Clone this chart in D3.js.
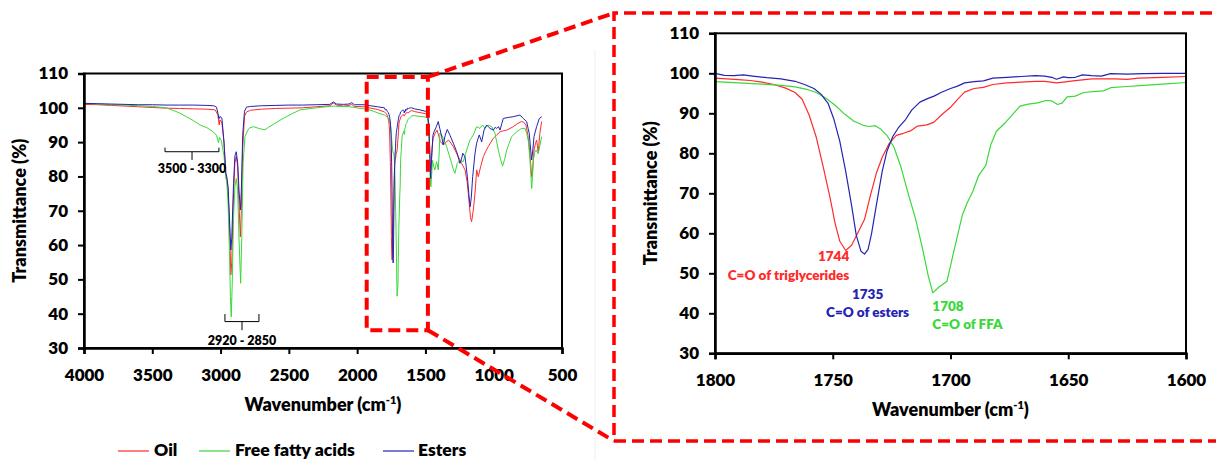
<!DOCTYPE html>
<html><head><meta charset="utf-8">
<script src="https://cdn.jsdelivr.net/npm/d3@7"></script>
<style>
body{margin:0;background:#fff}
svg{display:block}
text{font-family:Lato,"Open Sans",sans-serif;font-weight:800;fill:#000}
</style>
</head><body>
<svg id="c" width="1216" height="461"></svg>
<script>
// ---------- data ----------
const seriesNames = ["Oil", "Free fatty acids", "Esters"];
const seriesColors = ["#ff2a2a", "#3ad83a", "#2323b4"];
const xTicksFull = [4000, 3500, 3000, 2500, 2000, 1500, 1000, 500];
const xTicksZoom = [1800, 1750, 1700, 1650, 1600];
const yTicks = [30, 40, 50, 60, 70, 80, 90, 100, 110];

// [wavenumber, transmittance %]
const oilData = [
 [4000,101.0],[3900,100.9],[3800,100.7],[3700,100.5],[3600,100.3],[3500,100.1],[3400,99.9],[3300,99.8],
 [3200,99.7],[3100,99.6],[3040,99.4],[3020,98.0],[3010,95.0],[3005,96.5],[2990,95.5],[2975,90],[2962,81],
 [2955,79.5],[2945,76],[2935,66],[2925,51.3],[2918,55],[2905,75],[2895,84],[2885,85.8],[2875,83],[2865,72],
 [2855,62.4],[2848,70],[2838,88],[2825,97.5],[2810,98.8],[2780,99.3],[2700,99.6],[2600,99.8],[2500,99.9],
 [2400,100.0],[2300,100.3],[2200,100.6],[2175,101.4],[2150,100.8],[2100,100.5],[2060,100.7],[2040,101.0],
 [2020,100.4],[1950,100.3],[1900,99.9],[1850,99.5],
 [1800,98.8],[1795,98.6],[1790,98.4],[1785,98.2],[1780,97.8],[1775,97.2],[1770,96.3],[1766,95.2],[1763,93.5],
 [1760,89.5],[1757,84],[1754,76.5],[1751,68.5],[1749,62.5],[1747,58],[1744.5,55.7],[1742,57],[1739,60.5],
 [1736.5,63.5],[1734,69.5],[1731.5,75],[1729,79],[1726,82.5],[1723,84.5],[1720,85],[1717,85.6],[1714,86.8],
 [1710,87.1],[1707,87.8],[1704,89.5],[1700,91.5],[1697,93.5],[1694,95.3],[1690,96.2],[1686,96.5],[1682,97.2],
 [1676,97.6],[1670,97.8],[1664,98],[1660,98],[1655,97.6],[1652,97.8],[1648,98.1],[1640,98.6],[1630,98.6],
 [1625,98.5],[1620,98.8],[1610,99],[1600,99.2],
 [1580,98.9],[1540,98.6],[1500,98.3],[1485,97.9],[1475,95],[1465,83],[1460,82],[1452,88],[1444,91.1],
 [1430,92.5],[1415,93.5],[1400,91.5],[1391,90.1],[1367,89.2],[1350,90],[1330,90.6],[1310,89.5],[1296,88.7],
 [1275,87],[1259,85.75],[1235,83.8],[1210,81.9],[1195,78.5],[1186,75.1],[1170,68],[1162,66.8],[1150,70],
 [1137,75.1],[1125,81.9],[1113,79.9],[1096,82.8],[1076,85.75],[1060,87.2],[1040,88.7],[1020,90],[1003,91.1],
 [980,92],[954,93],[930,93.3],[905,93.5],[880,94],[857,94.5],[830,95.3],[796,96],[780,95.8],[764,95],
 [750,92],[740,88.7],[730,84],[722,79.9],[715,82],[705,87.7],[695,89.5],[686,90.6],[680,89],[674,86.75],
 [668,90],[662,92.6],[655,94.5],[649,96]
];

const ffaData = [
 [4000,101.3],[3900,101.1],[3800,100.9],[3700,100.8],[3600,100.6],[3500,100.4],[3400,100.0],[3350,99.3],
 [3300,98.5],[3250,97.4],[3200,96.3],[3150,95.0],[3100,94.2],[3054,93.0],[3030,92.0],[3020,90.5],[3015,89.8],
 [3008,91.4],[2995,90.5],[2975,86],[2962,79.5],[2955,78.8],[2945,72],[2935,58],[2928,45],[2922,39.1],
 [2915,48],[2905,68],[2895,77],[2885,79.4],[2875,76],[2865,62],[2853,48.85],[2845,62],[2835,84],[2821,91.6],
 [2800,93.5],[2785,94.2],[2760,94.5],[2720,94.0],[2690,93.7],[2675,93.6],[2650,94.3],[2600,95.5],[2543,96.9],
 [2480,98.2],[2419,99.4],[2300,100.0],[2175,100.5],[2053,100.3],[1990,99.9],[1930,99.6],[1880,99.0],
 [1840,98.4],[1810,98.0],
 [1800,97.9],[1790,97.6],[1780,97.3],[1772,97.0],[1766,96.6],[1761,96],[1757,95.2],[1753,93.8],[1749,92],
 [1745,89.8],[1741,88],[1737,87],[1734.5,86.7],[1732,86.9],[1729.5,86],[1727,84.5],[1724,81.5],[1721,76.5],
 [1718,70],[1715,64],[1712,56.5],[1709.5,49.5],[1707.5,45.1],[1705,46.5],[1701.5,48],[1699,54.5],[1697,59.5],
 [1695,64.5],[1693,67.5],[1690.5,70.5],[1688,74.5],[1685,77],[1683,82],[1680.5,85.5],[1677,87.5],[1674,89.5],
 [1670.5,91.8],[1667,92.3],[1663,92.6],[1659.5,93.2],[1657,93.1],[1654.5,92.2],[1652.5,92.6],[1650.5,94.1],
 [1647,94.3],[1643.5,95.2],[1638,95.5],[1635,95.6],[1632,96.4],[1625,96.7],[1618,97.0],[1610,97.3],[1600,97.7],
 [1580,97.7],[1540,97.5],[1500,97.3],[1485,97.2],[1475,93],[1466,80],[1460,77],[1452,82],[1448,84.8],
 [1440,83],[1431,81.9],[1418,84.3],[1406,81.9],[1398,88],[1394,92.6],[1380,92],[1369,91.1],[1345,88.7],
 [1325,86],[1308,83.8],[1295,82],[1284,80.9],[1267,83.8],[1247,84.8],[1235,84.5],[1223,84.3],[1198,87.7],
 [1174,90.6],[1149,92.1],[1125,94.5],[1101,94],[1081,95],[1064,94],[1040,95],[1015,94.5],[991,92.6],
 [966,87.7],[950,85],[935,83],[920,85],[905,87.7],[869,91.6],[832,93],[796,94],[771,94],[758,92.5],
 [747,90.6],[735,85],[722,76.5],[716,80],[710,84.8],[700,87],[690,87.7],[674,86.75],[662,89],[649,91.6]
];

const esterData = [
 [4000,101.3],[3900,101.2],[3800,101.1],[3700,101.0],[3600,100.9],[3500,100.9],[3400,100.8],[3300,100.8],
 [3200,100.8],[3100,100.7],[3050,100.6],[3030,100.2],[3020,98.5],[3012,96.8],[3005,97.5],[2990,97.0],
 [2975,90],[2962,81],[2955,80],[2945,77],[2935,68],[2925,58.6],[2918,62],[2905,78],[2895,86],[2885,87.2],
 [2875,84],[2865,76],[2855,70.2],[2848,76],[2838,92],[2825,99.0],[2810,100.2],[2780,100.4],[2700,100.6],
 [2600,100.7],[2500,100.8],[2400,100.8],[2300,100.9],[2200,101.0],[2175,101.7],[2150,101.1],[2100,101.0],
 [2060,101.1],[2040,101.5],[2020,100.9],[1950,100.9],[1900,100.6],[1850,100.3],
 [1800,100],[1796,99.5],[1792,99.4],[1788,99.6],[1784,99.3],[1778,98.9],[1772,98.6],[1766,98],[1762,97.2],
 [1758,96.2],[1755,94.8],[1752,92.5],[1749.5,88.5],[1747,83],[1744.5,75.5],[1742,67],[1740,59.5],[1738,55.5],
 [1736.5,54.8],[1735,56],[1733.5,60],[1731.5,67],[1729,75.5],[1727,80.5],[1724.5,84.2],[1722,86.5],[1719,88.5],
 [1716.5,90.8],[1713,92.8],[1710,93.6],[1707,94.3],[1704,95.2],[1700,96.2],[1697,96.8],[1694,97.6],[1690,97.9],
 [1686,98.1],[1682,98.8],[1676,99],[1670,99.2],[1664,99.4],[1660,99.3],[1657,99.0],[1655,98.5],[1652,99.1],
 [1650,98.9],[1647,99],[1644,99.6],[1640,99.4],[1636,99.3],[1632,99.9],[1625,99.8],[1618,99.9],[1610,100],[1600,100],
 [1580,99.7],[1540,99.4],[1500,99.0],[1485,98.4],[1475,95],[1466,85],[1462,79.4],[1455,85],[1445,92],
 [1437,93],[1420,94.5],[1406,96],[1395,94],[1381,91.6],[1370,89.2],[1355,92],[1340,93.7],[1320,92],
 [1296,89.7],[1271,87.2],[1247,83.8],[1236,85],[1227,86.75],[1210,85.75],[1193,79.9],[1180,74],[1172,71.2],
 [1164,74],[1154,79.9],[1137,86.75],[1125,89.7],[1106,92.1],[1088,90.1],[1071,93.5],[1052,95],[1040,94.5],
 [1027,94],[1003,93.5],[990,94.3],[978,94],[965,94.5],[954,93.5],[940,95.5],[930,96.9],[893,97.2],[857,97.4],
 [808,97.9],[784,96.9],[759,96],[748,94],[740,92.6],[730,88],[722,84.8],[713,88],[705,91.6],[686,94.5],
 [666,96.9],[649,97.4]
];

const seriesData = [oilData, ffaData, esterData];

// annotation arrays
const bracketsFull = [ // [wnLeft, wnRight, wnCenter, yLine, yTip, yStem, yText, label]
 [3407, 3012, 3209, 87.2, 88.4, 84.8, 82.2, "3500 - 3300"],
 [2968, 2719, 2843, 37.7, 39.9, 35.2, 32.1, "2920 - 2850"]
];
const peakLabels = [ // [wn, T top line, T bottom line, number, text, series index, anchor]
 [1743, 54.2, 49.6, "1744", "C=O of triglycerides", 0, "end"],
 [1735.2, 44.8, 40.3, "1735", "C=O of esters", 2, "middle"],
 [1707.7, 41.8, 37.3, "1708", "C=O of FFA", 1, "start"]
];
const zoomBox = [1930, 1482, 35.2, 109]; // wn range and T range of the highlighted region

// ---------- drawing ----------
const svg = d3.select("#c");
const xL = d3.scaleLinear().domain([4000, 500]).range([84, 562]);
const yL = d3.scaleLinear().domain([30, 110]).range([348, 73.5]);
const xR = d3.scaleLinear().domain([1800, 1600]).range([715, 1186]);
const yR = d3.scaleLinear().domain([30, 110]).range([353.3, 33.3]);

// faint separator
svg.append("line").attr("x1", 595).attr("x2", 595).attr("y1", 50).attr("y2", 461)
  .attr("stroke", "#eeeeee").attr("stroke-width", 1);

function drawPanel(x, y, xt, data, zoomed) {
  const g = svg.append("g");
  const [x0, x1] = x.range(), [y0, y1] = y.range();
  const id = "clip" + Math.round(x0);
  svg.append("clipPath").attr("id", id).append("rect")
    .attr("x", x0).attr("y", y1).attr("width", x1 - x0).attr("height", y0 - y1);
  const line = d3.line().x(d => x(d[0])).y(d => y(d[1]));
  const lg = g.append("g").attr("clip-path", `url(#${id})`);
  data.forEach((s, i) => {
    const pts = s.filter(d => d[0] <= x.domain()[0] + 1 && d[0] >= x.domain()[1] - 1);
    lg.append("path").attr("d", line(pts)).attr("fill", "none")
      .attr("stroke", seriesColors[i]).attr("stroke-width", zoomed ? 1.2 : 1)
      .attr("stroke-linejoin", "round");
  });
  // frame
  g.append("rect").attr("x", x0).attr("y", y1).attr("width", x1 - x0).attr("height", y0 - y1)
    .attr("fill", "none").attr("stroke", "#000").attr("stroke-width", 2);
  const ax = g.append("g").attr("transform", `translate(0,${y0})`)
    .call(d3.axisBottom(x).tickValues(xt).tickSize(6).tickPadding(15).tickFormat(d3.format("d")));
  const ay = g.append("g").attr("transform", `translate(${x0},0)`)
    .call(d3.axisLeft(y).tickValues(yTicks).tickSize(6).tickPadding(10).tickFormat(d3.format("d")));
  [ax, ay].forEach(a => {
    a.select(".domain").attr("stroke", "#000").attr("stroke-width", 2.5);
    a.selectAll(".tick line").attr("stroke", "#000").attr("stroke-width", 2);
    a.selectAll(".tick text").style("font-family", "Lato, 'Open Sans', sans-serif")
      .style("font-weight", "800").style("font-size", "17px").attr("fill", "#000");
  });
  // x title
  const cx = (x0 + x1) / 2;
  const t = g.append("text").attr("x", cx).attr("y", y0 + 63).attr("text-anchor", "middle")
    .style("font-size", "18px");
  t.append("tspan").text("Wavenumber (cm");
  t.append("tspan").attr("dy", -7).style("font-size", "11px").text("-1");
  t.append("tspan").attr("dy", 7).text(")");
  // y title
  g.append("text").attr("transform", `translate(${x0 - 64},${(y0 + y1) / 2}) rotate(-90)`)
    .attr("text-anchor", "middle").attr("dy", "0.35em").style("font-size", "18px")
    .text("Transmittance (%)");
  return g;
}

drawPanel(xL, yL, xTicksFull, seriesData, false);
drawPanel(xR, yR, xTicksZoom, seriesData, true);

// brackets on full spectrum
bracketsFull.forEach(b => {
  const [wa, wb, wc, yl, yt, ys, ytx, lab] = b;
  const p = d3.path();
  p.moveTo(xL(wa), yL(yt)); p.lineTo(xL(wa), yL(yl)); p.lineTo(xL(wb), yL(yl)); p.lineTo(xL(wb), yL(yt));
  p.moveTo(xL(wc), yL(yl)); p.lineTo(xL(wc), yL(ys));
  svg.append("path").attr("d", p.toString()).attr("fill", "none").attr("stroke", "#000").attr("stroke-width", 1);
  svg.append("text").attr("x", xL(wc)).attr("y", yL(ytx)).attr("dy", "0.35em").attr("text-anchor", "middle")
    .style("font-size", "12.5px").text(lab);
});

// peak labels on zoom panel
peakLabels.forEach(p => {
  const [wn, t1, t2, num, txt, si, anc] = p;
  const col = seriesColors[si];
  svg.append("text").attr("x", xR(wn)).attr("y", yR(t1)).attr("dy", "0.35em").attr("text-anchor", anc)
    .style("font-size", "13.5px").style("fill", col).text(num);
  svg.append("text").attr("x", xR(wn)).attr("y", yR(t2)).attr("dy", "0.35em").attr("text-anchor", anc)
    .style("font-size", "13.5px").style("fill", col).text(txt);
});

// red dashed highlight box and zoom frame
const bx0 = xL(zoomBox[0]), bx1 = xL(zoomBox[1]), by0 = yL(zoomBox[3]), by1 = yL(zoomBox[2]);
svg.append("rect").attr("x", bx0).attr("y", by0).attr("width", bx1 - bx0).attr("height", by1 - by0)
  .attr("fill", "none").attr("stroke", "#ff0000").attr("stroke-width", 4).attr("stroke-dasharray", "12,6");
const fx = 614, fyTop = 13, fyBot = 441;
svg.append("line").attr("x1", bx1).attr("y1", by0).attr("x2", fx).attr("y2", fyTop)
  .attr("stroke", "#ff0000").attr("stroke-width", 4).attr("stroke-dasharray", "12,6");
svg.append("line").attr("x1", bx1).attr("y1", by1).attr("x2", fx).attr("y2", fyBot)
  .attr("stroke", "#ff0000").attr("stroke-width", 4).attr("stroke-dasharray", "12,6");
svg.append("path").attr("d", `M1230,${fyTop}L${fx},${fyTop}L${fx},${fyBot}L1230,${fyBot}`)
  .attr("fill", "none").attr("stroke", "#ff0000").attr("stroke-width", 3.5).attr("stroke-dasharray", "12,6");

// legend
const legX = [[118, 154], [199, 235], [383, 418]];
seriesNames.forEach((n, i) => {
  svg.append("line").attr("x1", legX[i][0]).attr("x2", legX[i][0] + 31).attr("y1", 451).attr("y2", 451)
    .attr("stroke", seriesColors[i]).attr("stroke-width", 1.2);
  svg.append("text").attr("x", legX[i][1]).attr("y", 450).attr("dy", "0.35em").style("font-size", "17.5px").text(n);
});
</script>
</body></html>
